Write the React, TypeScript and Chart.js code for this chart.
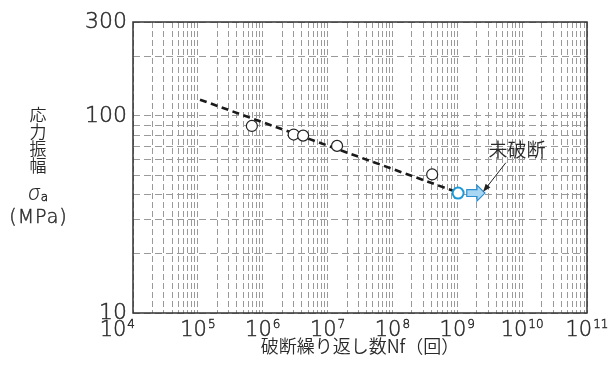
import React, { useEffect, useRef } from "react";
import { Chart, registerables } from "chart.js";

Chart.register(...registerables);

// ---- data ----
const failedCycles = [6.8e5, 3.0e6, 4.2e6, 1.4e7, 4.1e8];
const failedStress = [89, 80.5, 79.5, 70.5, 50.5];
const runoutCycles = [1.03e9];
const runoutStress = [40.6];
const fitCycles = [1.08e5, 1.0e9];
const fitStress = [121, 41];

// ---- axes ----
const xDecadeExponents = [4, 5, 6, 7, 8, 9, 10, 11];
const xMantissas = [1, 2, 3, 4, 5, 6, 7, 8, 9];
const yGridValues = [10, 20, 30, 40, 50, 60, 70, 80, 90, 100, 200, 300];
const yTickLabels = [10, 100, 300];
const xTitle = "破断繰り返し数Nf（回）";
const yTitleChars = ["応", "力", "振", "幅"];
const yTitleSymbol = "σ";
const yTitleSub = "a";
const yTitleUnit = "(MPa)";

// ---- annotation ----
const annotationText = "未破断";
const annotationTextAt = [8.3e9, 67.4];
const annotationLeaderFrom = [5.6e9, 57.9];
const annotationLeaderTo = [2.5e9, 41.2];
const runoutArrowCycles = [1.4e9, 2.67e9];

const xGridValues: number[] = [];
xDecadeExponents.forEach((e, i) => {
  if (i === xDecadeExponents.length - 1) {
    xGridValues.push(Math.pow(10, e));
  } else {
    xMantissas.forEach((m) => xGridValues.push(m * Math.pow(10, e)));
  }
});

const JP = "'Noto Sans CJK JP', 'Noto Sans', sans-serif";
const NUM = "'DejaVu Sans', 'Noto Sans', sans-serif";
const TEXT = "#2a2a2a";
const STROKE_W = 0.45;

function fillStroke(ctx: any, s: string, x: number, y: number) {
  ctx.fillText(s, x, y);
  ctx.strokeText(s, x, y);
}

const decorPlugin = {
  id: "decor",
  afterDatasetsDraw(chart: any) {
    const { ctx, scales } = chart;
    const xs = scales.x;
    const ys = scales.y;
    ctx.save();
    ctx.setLineDash([]);

    // runout arrow
    const ay = ys.getPixelForValue(runoutStress[0]);
    const ax0 = xs.getPixelForValue(runoutArrowCycles[0]);
    const ax1 = xs.getPixelForValue(runoutArrowCycles[1]);
    const headL = 8, bodyH = 3.4, headH = 8;
    ctx.beginPath();
    ctx.moveTo(ax0, ay - bodyH);
    ctx.lineTo(ax1 - headL, ay - bodyH);
    ctx.lineTo(ax1 - headL, ay - headH);
    ctx.lineTo(ax1, ay);
    ctx.lineTo(ax1 - headL, ay + headH);
    ctx.lineTo(ax1 - headL, ay + bodyH);
    ctx.lineTo(ax0, ay + bodyH);
    ctx.closePath();
    ctx.fillStyle = "#a9d6f2";
    ctx.fill();
    ctx.strokeStyle = "#2a90d0";
    ctx.lineWidth = 1.2;
    ctx.stroke();

    // annotation leader
    const lx0 = xs.getPixelForValue(annotationLeaderFrom[0]);
    const ly0 = ys.getPixelForValue(annotationLeaderFrom[1]);
    const lx1 = xs.getPixelForValue(annotationLeaderTo[0]);
    const ly1 = ys.getPixelForValue(annotationLeaderTo[1]);
    const ang = Math.atan2(ly1 - ly0, lx1 - lx0);
    const hl = 8, hw = 3;
    ctx.strokeStyle = "#222";
    ctx.lineWidth = 1;
    ctx.beginPath();
    ctx.moveTo(lx0, ly0);
    ctx.lineTo(lx1 - Math.cos(ang) * hl * 0.8, ly1 - Math.sin(ang) * hl * 0.8);
    ctx.stroke();
    ctx.beginPath();
    ctx.moveTo(lx1, ly1);
    ctx.lineTo(lx1 - Math.cos(ang) * hl - Math.sin(ang) * hw, ly1 - Math.sin(ang) * hl + Math.cos(ang) * hw);
    ctx.lineTo(lx1 - Math.cos(ang) * hl + Math.sin(ang) * hw, ly1 - Math.sin(ang) * hl - Math.cos(ang) * hw);
    ctx.closePath();
    ctx.fillStyle = "#222";
    ctx.fill();

    // annotation text
    ctx.fillStyle = TEXT;
    ctx.font = `350 19px ${JP}`;
    ctx.textAlign = "center";
    ctx.textBaseline = "middle";
    ctx.fillText(annotationText, xs.getPixelForValue(annotationTextAt[0]), ys.getPixelForValue(annotationTextAt[1]));
    ctx.restore();
  },
  afterDraw(chart: any) {
    const { ctx, chartArea: ca, scales } = chart;
    const xs = scales.x;
    ctx.save();
    ctx.setLineDash([]);
    // frame
    ctx.strokeStyle = "#333";
    ctx.lineWidth = 1.5;
    ctx.strokeRect(ca.left, ca.top, ca.right - ca.left, ca.bottom - ca.top);

    // x tick labels with superscript exponents
    ctx.fillStyle = TEXT;
    ctx.strokeStyle = TEXT;
    ctx.lineWidth = STROKE_W;
    ctx.textAlign = "left";
    ctx.textBaseline = "alphabetic";
    const baseFont = `200 21px ${NUM}`;
    const supFont = `200 12px ${NUM}`;
    const baseY = ca.bottom + 23;
    xDecadeExponents.forEach((e, i) => {
      const x = xs.getPixelForValue(Math.pow(10, e));
      ctx.font = baseFont;
      const w1 = ctx.measureText("10").width;
      ctx.font = supFont;
      const w2 = ctx.measureText(String(e)).width;
      const total = w1 + 1 + w2;
      const left = i === 0 ? x - total + 2 : x - total / 2;
      ctx.font = baseFont;
      fillStroke(ctx, "10", left, baseY);
      ctx.font = supFont;
      fillStroke(ctx, String(e), left + w1 + 1, baseY - 8);
    });

    // y title (stacked)
    const cx = 38;
    ctx.textAlign = "center";
    ctx.textBaseline = "middle";
    ctx.font = `350 17px ${JP}`;
    yTitleChars.forEach((c, i) => ctx.fillText(c, cx, 115 + i * 17));
    ctx.font = `italic 300 21px 'Noto Sans', ${NUM}`;
    const sw = ctx.measureText(yTitleSymbol).width;
    ctx.font = `200 12px ${NUM}`;
    const aw = ctx.measureText(yTitleSub).width;
    const sx = cx - (sw + aw + 1) / 2;
    ctx.textAlign = "left";
    ctx.textBaseline = "alphabetic";
    ctx.font = `italic 300 21px 'Noto Sans', ${NUM}`;
    ctx.fillText(yTitleSymbol, sx, 200);
    ctx.font = `200 12px ${NUM}`;
    fillStroke(ctx, yTitleSub, sx + sw + 1, 201);
    ctx.textAlign = "center";
    ctx.textBaseline = "middle";
    ctx.font = `200 19px ${NUM}`;
    (ctx as any).letterSpacing = "1px";
    fillStroke(ctx, yTitleUnit, cx + 0.5, 218);
    (ctx as any).letterSpacing = "0px";
    ctx.restore();
  },
};

export default function App() {
  const ref = useRef<HTMLCanvasElement | null>(null);
  useEffect(() => {
    if (!ref.current) return;
    const chart = new Chart(ref.current, {
      type: "scatter",
      data: {
        datasets: [
          {
            label: "failed",
            data: failedCycles.map((x, i) => ({ x, y: failedStress[i] })),
            pointRadius: 5.5,
            pointBackgroundColor: "#fff",
            pointBorderColor: "#222",
            pointBorderWidth: 1.2,
            showLine: false,
          },
          {
            label: "runout",
            data: runoutCycles.map((x, i) => ({ x, y: runoutStress[i] })),
            pointRadius: 5.5,
            pointBackgroundColor: "#fff",
            pointBorderColor: "#1c9ad8",
            pointBorderWidth: 2,
            showLine: false,
          },
          {
            label: "fit",
            data: fitCycles.map((x, i) => ({ x, y: fitStress[i] })),
            showLine: true,
            pointRadius: 0,
            borderColor: "#1a1a1a",
            borderWidth: 2.6,
            borderDash: [7, 4.5],
            fill: false,
          },
        ],
      },
      options: {
        animation: false,
        responsive: false,
        devicePixelRatio: 1,
        layout: { padding: { left: 0, right: 24, top: 22, bottom: 0 } },
        plugins: { legend: { display: false }, tooltip: { enabled: false } },
        scales: {
          x: {
            type: "logarithmic",
            min: 1e4,
            max: 1e11,
            afterBuildTicks: (s: any) => {
              s.ticks = xGridValues.map((v) => ({ value: v }));
            },
            afterFit: (s: any) => {
              s.height = 59;
            },
            ticks: { display: false },
            grid: { color: "#9a9a9a", lineWidth: 1, drawTicks: false },
            border: { display: false, dash: [6, 3] },
            title: {
              display: true,
              text: xTitle,
              color: TEXT,
              font: { family: JP, size: 18, weight: "350" },
              padding: { top: 0, bottom: 15 },
            },
          },
          y: {
            type: "logarithmic",
            min: 10,
            max: 300,
            afterBuildTicks: (s: any) => {
              s.ticks = yGridValues.map((v) => ({ value: v }));
            },
            afterFit: (s: any) => {
              s.width = 133;
            },
            ticks: {
              autoSkip: false,
              padding: 6,
              color: TEXT,
              textStrokeColor: TEXT,
              textStrokeWidth: STROKE_W,
              font: { family: NUM, size: 22, weight: "200" },
              callback: (v: any) => (yTickLabels.includes(Number(v)) ? String(v) : ""),
            },
            grid: { color: "#9a9a9a", lineWidth: 1, drawTicks: false },
            border: { display: false, dash: [7, 4] },
          },
        },
      },
      plugins: [decorPlugin],
    });
    return () => chart.destroy();
  }, []);
  return (
    <div style={{ position: "absolute", left: 0, top: 0, width: 611, height: 372, background: "#fff" }}>
      <canvas ref={ref} width={611} height={372} />
    </div>
  );
}
